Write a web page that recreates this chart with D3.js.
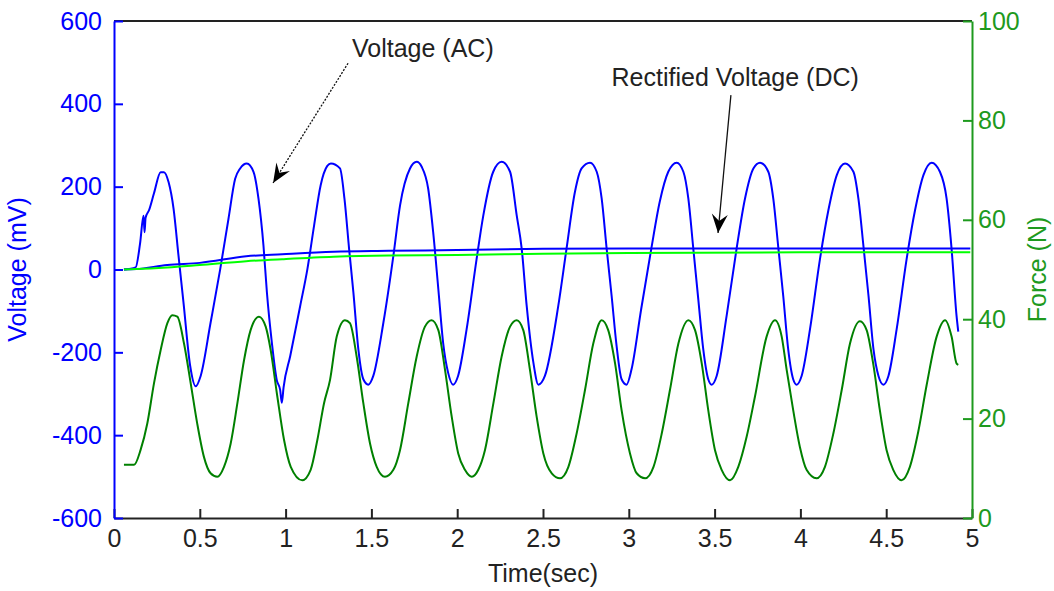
<!DOCTYPE html>
<html>
<head>
<meta charset="utf-8">
<script src="https://cdn.jsdelivr.net/npm/d3@7"></script>
<style>
  body { margin: 0; background: #fff; }
  svg text { font-family: "Liberation Sans", Arial, sans-serif; }
</style>
</head>
<body>
<div id="chart"></div>
<script>
// ---- data ----
const xTicks = [0, 0.5, 1, 1.5, 2, 2.5, 3, 3.5, 4, 4.5, 5]
const voltTicks = [-600, -400, -200, 0, 200, 400, 600]
const forceTicks = [0, 20, 40, 60, 80, 100]

// AC voltage (mV)
const acTime = [0.058, 0.126, 0.152, 0.172, 0.178, 0.184, 0.204, 0.233, 0.272, 0.291, 0.318, 0.347, 0.376, 0.405, 0.444, 0.476, 0.505, 0.563, 0.619, 0.667, 0.706, 0.735, 0.774, 0.813, 0.842, 0.871, 0.891, 0.920, 0.949, 0.968, 0.978, 0.988, 1.027, 1.085, 1.127, 1.166, 1.204, 1.243, 1.264, 1.317, 1.343, 1.370, 1.395, 1.424, 1.453, 1.482, 1.511, 1.570, 1.628, 1.667, 1.725, 1.764, 1.793, 1.831, 1.860, 1.890, 1.918, 1.947, 1.976, 2.005, 2.055, 2.113, 2.152, 2.210, 2.259, 2.308, 2.347, 2.376, 2.405, 2.444, 2.473, 2.511, 2.589, 2.637, 2.686, 2.725, 2.774, 2.813, 2.842, 2.871, 2.900, 2.929, 2.958, 2.987, 3.016, 3.072, 3.131, 3.180, 3.230, 3.279, 3.318, 3.347, 3.376, 3.405, 3.434, 3.463, 3.483, 3.512, 3.570, 3.628, 3.677, 3.726, 3.765, 3.813, 3.842, 3.871, 3.900, 3.929, 3.958, 3.978, 4.007, 4.056, 4.114, 4.163, 4.212, 4.260, 4.309, 4.338, 4.368, 4.397, 4.426, 4.455, 4.484, 4.513, 4.561, 4.619, 4.668, 4.717, 4.765, 4.813, 4.852, 4.881, 4.910, 4.920]
const acVolt = [0, 5, 63, 130, 90, 125, 143, 184, 235, 235, 211, 147, 33, -80, -233, -282, -257, -128, 1, 122, 219, 244, 256, 236, 171, 58, -55, -177, -268, -290, -322, -285, -209, -88, 1, 106, 203, 250, 256, 244, 171, 50, -55, -193, -265, -278, -257, -128, 33, 155, 244, 260, 248, 195, 90, -47, -177, -249, -278, -257, -144, 25, 130, 236, 260, 236, 130, 50, -88, -225, -278, -257, -88, 50, 187, 244, 258, 236, 171, 50, -64, -185, -265, -278, -241, -96, 50, 163, 236, 258, 236, 171, 50, -72, -193, -265, -278, -257, -112, 50, 171, 244, 258, 236, 171, 54, -64, -193, -265, -278, -257, -144, 25, 143, 228, 256, 236, 171, 54, -64, -193, -257, -278, -257, -144, 25, 143, 228, 258, 236, 171, 50, -112, -150]

// rectified voltage (mV), two traces
const dcTime = [0.058, 0.13, 0.31, 0.5, 0.77, 0.98, 1.28, 1.6, 2.0, 2.5, 3.0, 4.0, 4.99]
const dcVoltBlue = [0, 1, 11, 16, 32, 37, 43, 45, 47, 50, 51, 51, 51]
const dcVoltGreen = [0, 1, 5, 11, 20, 25, 31, 34, 35, 38, 40, 41.5, 41.5]

// force (N)
const forceTime = [0.058, 0.117, 0.155, 0.194, 0.233, 0.272, 0.311, 0.340, 0.369, 0.408, 0.447, 0.485, 0.524, 0.563, 0.602, 0.641, 0.680, 0.719, 0.758, 0.796, 0.845, 0.884, 0.913, 0.952, 0.991, 1.030, 1.097, 1.146, 1.185, 1.224, 1.259, 1.298, 1.346, 1.375, 1.414, 1.453, 1.492, 1.531, 1.579, 1.628, 1.667, 1.715, 1.764, 1.812, 1.851, 1.890, 1.929, 1.968, 2.006, 2.045, 2.085, 2.123, 2.162, 2.211, 2.259, 2.308, 2.347, 2.385, 2.424, 2.463, 2.502, 2.551, 2.599, 2.648, 2.696, 2.745, 2.793, 2.842, 2.880, 2.920, 2.958, 3.007, 3.046, 3.095, 3.144, 3.192, 3.240, 3.289, 3.347, 3.386, 3.425, 3.463, 3.502, 3.541, 3.590, 3.638, 3.687, 3.735, 3.803, 3.852, 3.891, 3.920, 3.958, 3.997, 4.036, 4.094, 4.143, 4.192, 4.241, 4.289, 4.347, 4.386, 4.424, 4.463, 4.502, 4.541, 4.590, 4.638, 4.687, 4.736, 4.794, 4.843, 4.881, 4.910, 4.920]
const forceN = [10.7, 10.7, 13.7, 19, 27.1, 33.8, 39.2, 40.8, 40.5, 35.1, 27.1, 19, 12.3, 9, 8.3, 10.3, 15, 23.1, 31.8, 37.8, 40.5, 38.5, 33.8, 24.4, 15.7, 10.3, 7.6, 9.7, 15.7, 23.1, 27.8, 36.5, 39.8, 39.2, 32.5, 23.1, 15, 10.3, 8.3, 9.7, 13.7, 23.1, 32.5, 38.5, 39.8, 37.8, 29.8, 20.4, 13, 9.7, 8.3, 9.7, 13.7, 23.1, 32.5, 38.5, 39.8, 37.8, 29.8, 20.4, 13, 9, 8, 10.3, 17, 25.8, 35.1, 39.8, 37.8, 31.1, 21.7, 13, 9, 8, 10.3, 17, 25.8, 35.1, 39.8, 37.8, 31.1, 21.7, 13.7, 9.7, 7.6, 10.3, 16.4, 24.4, 36.5, 39.8, 36.5, 29.8, 21.7, 14.3, 9.7, 8, 10.3, 17, 25.8, 35.1, 39.6, 37.8, 31.1, 21.7, 13.7, 9.7, 7.6, 10.3, 17.4, 26.8, 36.5, 39.8, 36.5, 31.1, 30.8]

// annotations: [label, text t, text v, arrow start t, v, arrow tip t, v]
const notes = [
  ["Voltage (AC)", 1.80, 513, 1.364, 498, 0.927, 209],
  ["Rectified Voltage (DC)", 3.62, 443, 3.595, 421, 3.52, 88]
]

const MARGIN = { TOP: 21, BOTTOM: 73, LEFT: 114, RIGHT: 82 }
const W = 1054, H = 591
const WIDTH = W - MARGIN.LEFT - MARGIN.RIGHT
const HEIGHT = H - MARGIN.TOP - MARGIN.BOTTOM
const BLUE = "#0000ff"
const GREEN = "#008000"
const AXGREEN = "#1e9a1e"
const LIME = "#00ff00"
const FONT = 25

const svg = d3.select("#chart").append("svg")
  .attr("width", W).attr("height", H)
svg.append("rect").attr("width", W).attr("height", H).attr("fill", "#fff")

const g = svg.append("g").attr("transform", `translate(${MARGIN.LEFT}, ${MARGIN.TOP})`)

const x = d3.scaleLinear().domain([0, 5]).range([0, WIDTH])
const yV = d3.scaleLinear().domain([-600, 600]).range([HEIGHT, 0])
const yF = d3.scaleLinear().domain([0, 100]).range([HEIGHT, 0])

// lines
const lineV = d3.line().x(d => x(d[0])).y(d => yV(d[1])).curve(d3.curveMonotoneX)
const lineF = d3.line().x(d => x(d[0])).y(d => yF(d[1])).curve(d3.curveMonotoneX)

const plot = g.append("g")
plot.append("path").datum(d3.zip(acTime, acVolt))
  .attr("d", lineV).attr("fill", "none").attr("stroke", BLUE).attr("stroke-width", 2)
plot.append("path").datum(d3.zip(dcTime, dcVoltBlue))
  .attr("d", lineV).attr("fill", "none").attr("stroke", BLUE).attr("stroke-width", 2)
plot.append("path").datum(d3.zip(dcTime, dcVoltGreen))
  .attr("d", lineV).attr("fill", "none").attr("stroke", LIME).attr("stroke-width", 2)
plot.append("path").datum(d3.zip(forceTime, forceN))
  .attr("d", lineF).attr("fill", "none").attr("stroke", GREEN).attr("stroke-width", 2)

// frame top
g.append("line").attr("x1", 0).attr("x2", WIDTH).attr("y1", 0).attr("y2", 0)
  .attr("stroke", "#222").attr("stroke-width", 2)

// axes (plain hyphen for negatives, like the original)
const fmt = d => String(d)

const xAxis = g.append("g").attr("transform", `translate(0, ${HEIGHT})`)
  .call(d3.axisBottom(x).tickValues(xTicks).tickFormat(fmt).tickSize(-9).tickSizeOuter(0).tickPadding(11))
xAxis.attr("color", "#222")

const yAxisL = g.append("g")
  .call(d3.axisLeft(yV).tickValues(voltTicks).tickFormat(fmt).tickSize(-9).tickSizeOuter(0).tickPadding(12))
yAxisL.attr("color", BLUE)

const yAxisR = g.append("g").attr("transform", `translate(${WIDTH}, 0)`)
  .call(d3.axisRight(yF).tickValues(forceTicks).tickFormat(fmt).tickSize(-9).tickSizeOuter(0).tickPadding(6))
yAxisR.attr("color", AXGREEN)

g.selectAll(".domain, .tick line").attr("stroke-width", 2)
g.selectAll(".tick text").attr("font-size", FONT).attr("font-family", null)

// axis titles
g.append("text").attr("x", WIDTH / 2).attr("y", HEIGHT + 64)
  .attr("text-anchor", "middle").attr("font-size", FONT).attr("fill", "#222")
  .text("Time(sec)")
g.append("text").attr("transform", `translate(${-88}, ${HEIGHT / 2}) rotate(-90)`)
  .attr("text-anchor", "middle").attr("font-size", FONT).attr("fill", BLUE)
  .text("Voltage (mV)")
g.append("text").attr("transform", `translate(${WIDTH + 74}, ${HEIGHT / 2}) rotate(-90)`)
  .attr("text-anchor", "middle").attr("font-size", FONT).attr("fill", AXGREEN)
  .text("Force (N)")

// annotations
notes.forEach(n => {
  const [label, tx, tv, sx, sv, ex, ev] = n
  g.append("text").attr("x", x(tx)).attr("y", yV(tv))
    .attr("text-anchor", "middle").attr("font-size", FONT).attr("fill", "#222")
    .text(label)
  const x1 = x(sx), y1 = yV(sv), x2 = x(ex), y2 = yV(ev)
  const ang = Math.atan2(y2 - y1, x2 - x1) * 180 / Math.PI
  g.append("line").attr("x1", x1).attr("y1", y1).attr("x2", x2).attr("y2", y2)
    .attr("stroke", "#111").attr("stroke-width", 1.3)
    .attr("stroke-dasharray", label === "Voltage (AC)" ? "2 1.5" : null)
  g.append("path").attr("d", "M0,0 L-19,-8 L-12,0 L-19,8 Z")
    .attr("transform", `translate(${x2}, ${y2}) rotate(${ang})`)
    .attr("fill", "#000")
})
</script>
</body>
</html>
